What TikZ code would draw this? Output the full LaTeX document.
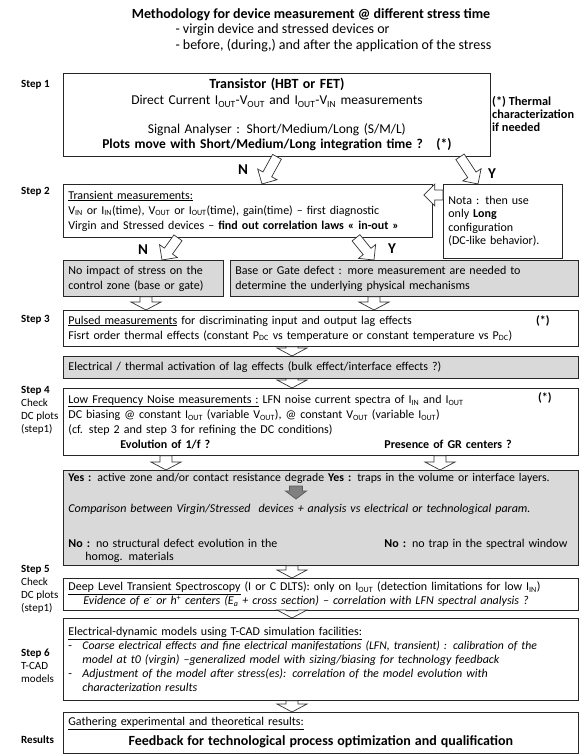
\documentclass[tikz,border=0pt]{standalone}
\usepackage{fontspec}
\setmainfont{Carlito}
\usetikzlibrary{calc,positioning}

\newcommand{\bodysize}{\fontsize{12}{15}\selectfont}
\newcommand{\bigsize}{\fontsize{14}{16}\selectfont}
\newcommand{\smallsize}{\fontsize{11}{13}\selectfont}

% hollow block arrow: [options]{from}{to}{half shaft}{half head}{head length}
\newcommand{\blockarrow}[6][]{%
  \coordinate (hb) at ($(#3)!#6!(#2)$);
  \draw[blockarrow,#1] ($(#2)!#4!90:(#3)$) -- ($(hb)!#4!90:(#3)$)
    -- ($(hb)!#5!90:(#3)$) -- (#3) -- ($(hb)!#5!-90:(#3)$)
    -- ($(hb)!#4!-90:(#3)$) -- ($(#2)!#4!-90:(#3)$) -- cycle;}

\tikzset{
  mainbox/.style={draw=black!85, line width=0.8pt, anchor=north west, align=left,
    inner xsep=5pt, inner ysep=1.5pt, font=\bodysize},
  graybox/.style={mainbox, fill=black!15},
  steplabel/.style={anchor=north west, align=left, inner sep=0pt, font=\smallsize},
  starmark/.style={font=\bodysize\bfseries, inner sep=0pt},
  yn/.style={font=\fontsize{15}{16}\selectfont\bfseries, inner sep=0pt},
  blockarrow/.style={draw=black!80, line width=0.7pt, fill=white, line join=miter},
}

\begin{document}
\begin{tikzpicture}[x=1pt, y=-1pt]
\useasboundingbox (0,0) rectangle (580,756);

% title
\node[font=\bigsize\bfseries] (title) at (311,15) {Methodology for device measurement @ different stress time};
\node[anchor=west, align=left, font=\fontsize{14}{16}\selectfont] (subtitle) at (172,38)
  {- virgin device and stressed devices or\\- before, (during,) and after the application of the stress};

% step labels
\node[steplabel] (lab1) at (21,80) {\textbf{Step 1}};
\node[steplabel] (lab2) at (21,187) {\textbf{Step 2}};
\node[steplabel] (lab3) at (21,315) {\textbf{Step 3}};
\node[steplabel] (lab4) at (21,386) {\textbf{Step 4}\\Check\\DC plots\\(step1)};
\node[steplabel] (lab5) at (21,565) {\textbf{Step 5}\\Check\\DC plots\\(step1)};
\node[steplabel] (lab6) at (21,649) {\textbf{Step 6}\\T-CAD\\models};
\node[steplabel] (lab7) at (21,736) {\textbf{Results}};

% boxes
\node[mainbox, text width=417pt, minimum height=83pt, align=center, font=\fontsize{13.5}{15}\selectfont] (transistor) at (63,73)
  {{\bigsize\bfseries Transistor (HBT or FET)}\\[1pt]
   Direct Current  I\textsubscript{OUT}-V\textsubscript{OUT} and I\textsubscript{OUT}-V\textsubscript{IN} measurements\\[14pt]
   Signal Analyser : Short/Medium/Long (S/M/L)\\
   \textbf{Plots move with Short/Medium/Long integration time ?\quad(*)}};
\node[anchor=north west, align=left, inner sep=0pt, font=\fontsize{12.3}{13}\selectfont\bfseries] (thermal) at (492,96)
  {(*) Thermal\\characterization\\if needed};

\node[mainbox, text width=359pt, minimum height=53pt] (transient) at (63,184)
  {\underline{Transient measurements:}\\
   V\textsubscript{IN} or I\textsubscript{IN}(time), V\textsubscript{OUT} or I\textsubscript{OUT}(time), gain(time) – first diagnostic\\
   \mbox{Virgin and Stressed devices – \textbf{find out correlation laws « in-out »}}};
\node[mainbox, text width=109pt, minimum height=74pt, font=\fontsize{12}{13.5}\selectfont] (nota) at (443,184)
  {Nota : then use\\only \textbf{Long}\\configuration\\(DC-like behavior).};

\node[graybox, text width=150pt, minimum height=36pt] (noimpact) at (63,260)
  {No impact of stress on the\\control zone (base or gate)};
\node[graybox, text width=338pt, minimum height=36pt] (gatedefect) at (230,260)
  {Base or Gate defect : more measurement are needed to\\determine the underlying physical mechanisms};

\node[mainbox, text width=505pt, minimum height=36pt] (pulsed) at (63,310)
  {\underline{Pulsed measurements} for discriminating input and output lag effects\\
   Fisrt order thermal effects (constant P\textsubscript{DC} vs temperature or constant temperature vs P\textsubscript{DC})};
\node[graybox, text width=505pt, minimum height=22pt] (activation) at (63,356)
  {Electrical / thermal activation of lag effects (bulk effect/interface effects ?)};

\node[mainbox, text width=505pt, minimum height=67pt] (lfn) at (63,388)
  {\underline{Low Frequency Noise measurements :} LFN noise current spectra of I\textsubscript{IN} and I\textsubscript{OUT}\\
   DC biasing @ constant I\textsubscript{OUT} (variable V\textsubscript{OUT}), @ constant V\textsubscript{OUT} (variable I\textsubscript{OUT})\\
   (cf. step 2 and step 3 for refining the DC conditions)\\
   \hspace*{52pt}\makebox[264pt][l]{\textbf{Evolution of 1/f ?}}\textbf{Presence of GR centers ?}};

\node[graybox, text width=505pt, minimum height=95pt] (diagnosis) at (63,470)
  {\mbox{\fontsize{11.8}{15}\selectfont\textbf{Yes :} active zone and/or contact resistance degrade \textbf{Yes :} traps in the volume or interface layers.}\\[16.5pt]
   \mbox{\textit{Comparison between Virgin/Stressed\ \ devices + analysis vs electrical or technological param.}}\\[19.5pt]
   \mbox{\makebox[316pt][l]{\textbf{No :} no structural defect evolution in the}\textbf{No :} no trap in the spectral window}\\[-2pt]
   \hspace*{17pt}homog. materials};

\node[mainbox, text width=505pt, minimum height=32pt, font=\fontsize{12}{14}\selectfont] (dlts) at (63,578)
  {\mbox{\underline{Deep Level Transient Spectroscopy} (I or C DLTS): only on I\textsubscript{OUT} (detection limitations for low I\textsubscript{IN})}\\
   \hspace*{15pt}\textit{Evidence of e\textsuperscript{-} or h\textsuperscript{+} centers (E\textsubscript{a} + cross section) – correlation with LFN spectral analysis ?}};

\node[mainbox, text width=505pt, minimum height=82pt, font=\fontsize{12}{14}\selectfont] (tcad) at (63,618)
  {\underline{Electrical-dynamic models using T-CAD simulation facilities:}\\
   \mbox{\makebox[14pt][l]{-}\fontsize{11.7}{14}\selectfont\textit{Coarse electrical effects and fine electrical manifestations (LFN, transient) : calibration of the}}\\
   \hspace*{14pt}\textit{model at t0 (virgin) –generalized model with sizing/biasing for technology feedback}\\
   \makebox[14pt][l]{-}\textit{Adjustment of the model after stress(es): correlation of the model evolution with}\\
   \hspace*{14pt}\textit{characterization results}};

\node[mainbox, text width=505pt, minimum height=41pt] (results) at (63,712)
  {\underline{Gathering experimental and theoretical results:}\\[5pt]
   \makebox[505pt][c]{\bigsize\bfseries Feedback for technological process optimization and qualification}};

% (*) marks
\node[starmark] (star3) at ($(pulsed.north east)+(-36,11)$) {(*)};
\node[starmark] (star4) at ($(lfn.north east)+(-34,10)$) {(*)};

% arrow ends
\coordinate (n1a) at ($(transistor.south west)+(214,0)$);
\coordinate (n1b) at ($(transient.north west)+(199,0)$);
\coordinate (y1a) at ($(transistor.south west)+(397,0)$);
\coordinate (y1b) at ($(nota.north west)+(35,0)$);
\coordinate (notaa) at ($(nota.north west)+(0,11)$);
\coordinate (notab) at ($(transient.north east)+(-9,11)$);
\coordinate (n2a) at ($(transient.south west)+(115,0)$);
\coordinate (n2b) at ($(noimpact.north west)+(99,0)$);
\coordinate (y2a) at ($(transient.south west)+(293,0)$);
\coordinate (y2b) at ($(gatedefect.north west)+(144,0)$);
\coordinate (v1a) at ($(noimpact.south west)+(83,0)$);
\coordinate (v1b) at ($(pulsed.north west)+(83,0)$);
\coordinate (v2a) at ($(gatedefect.south west)+(144,0)$);
\coordinate (v2b) at ($(pulsed.north west)+(311,0)$);
\coordinate (v3a) at ($(pulsed.south west)+(229,0)$);
\coordinate (v3b) at ($(activation.north west)+(229,0)$);
\coordinate (v4a) at ($(activation.south west)+(229,0)$);
\coordinate (v4b) at ($(lfn.north west)+(229,0)$);
\coordinate (v5a) at ($(lfn.south west)+(103,0)$);
\coordinate (v5b) at ($(diagnosis.north west)+(103,0)$);
\coordinate (v6a) at ($(lfn.south west)+(377,0)$);
\coordinate (v6b) at ($(diagnosis.north west)+(377,0)$);
\coordinate (v7a) at ($(diagnosis.south west)+(229,0)$);
\coordinate (v7b) at ($(dlts.north west)+(229,0)$);
\coordinate (v8a) at ($(dlts.south west)+(229,0)$);
\coordinate (v8b) at ($(tcad.north west)+(229,0)$);
\coordinate (v9a) at ($(tcad.south west)+(229,0)$);
\coordinate (v9b) at ($(results.north west)+(229,0)$);
\coordinate (dka) at ($(diagnosis.north west)+(233,16)$);
\coordinate (dkb) at ($(diagnosis.north west)+(233,29)$);

% arrows
\blockarrow{n1a}{n1b}{5pt}{11pt}{11pt}
\blockarrow{y1a}{y1b}{5pt}{11pt}{11pt}
\blockarrow{notaa}{notab}{5pt}{11pt}{11pt}
\blockarrow{n2a}{n2b}{5pt}{11pt}{11pt}
\blockarrow{y2a}{y2b}{5pt}{11pt}{11pt}
\foreach \a in {v1,v2,v3,v4,v5,v6,v7,v8,v9}
  \blockarrow{\a a}{\a b}{6pt}{15pt}{8pt};
\blockarrow[fill=black!50, draw=black!65]{dka}{dkb}{6.5pt}{10.5pt}{8pt}

% N / Y labels
\node[yn] (n1) at (243,170) {N};
\node[yn] (y1) at (492,174) {Y};
\node[yn] (n2) at (143,250) {N};
\node[yn] (y2) at (392,249) {Y};
\end{tikzpicture}
\end{document}
